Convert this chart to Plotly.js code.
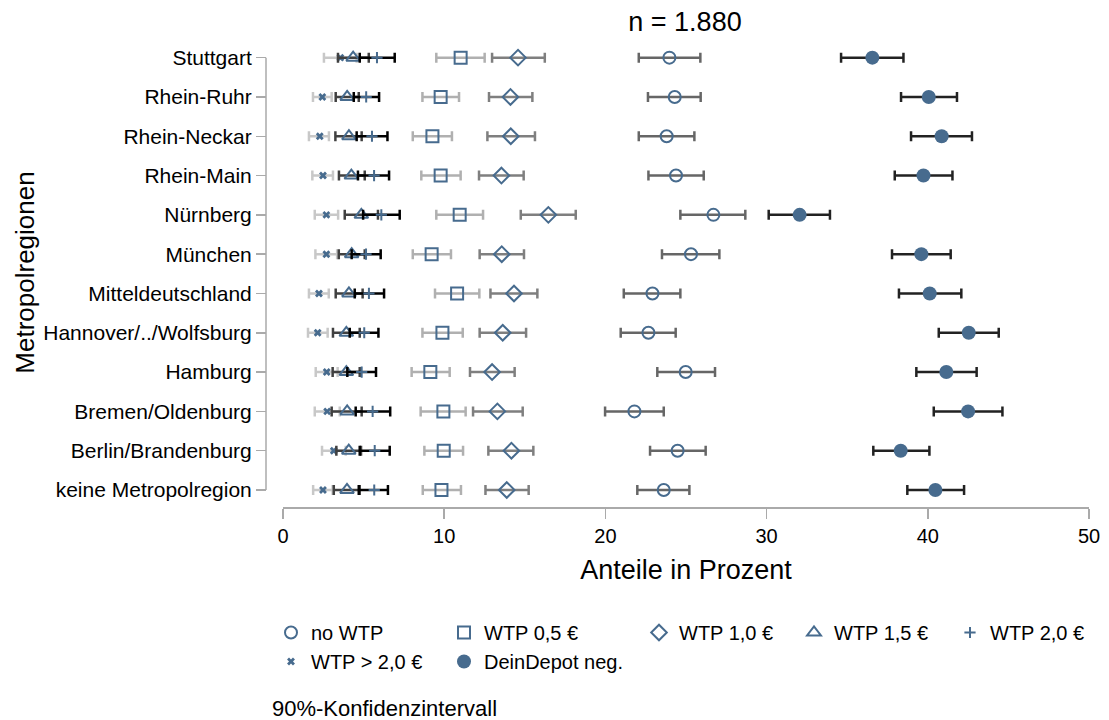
<!DOCTYPE html>
<html><head><meta charset="utf-8">
<script src="https://cdn.plot.ly/plotly-3.0.1.min.js"></script>
<style>html,body{margin:0;padding:0;background:#fff}</style>
</head><body><div id="chart" style="width:1109px;height:720px"></div>
<script>
const regions = ["Stuttgart","Rhein-Ruhr","Rhein-Neckar","Rhein-Main","Nürnberg","München","Mitteldeutschland","Hannover/../Wolfsburg","Hamburg","Bremen/Oldenburg","Berlin/Brandenburg","keine Metropolregion"];

const noWTP    = [23.97,24.30,23.80,24.38,26.70,25.31,22.92,22.67,24.98,21.80,24.48,23.62];
const noWTP_lo = [22.07,22.64,22.07,22.67,24.65,23.51,21.14,20.95,23.22,19.98,22.77,21.98];
const noWTP_hi = [25.89,25.91,25.52,26.10,28.68,27.07,24.65,24.36,26.80,23.62,26.22,25.21];

const wtp05    = [11.02,9.78,9.27,9.78,10.96,9.22,10.80,9.89,9.14,9.95,9.97,9.83];
const wtp05_lo = [9.51,8.65,8.05,8.58,9.51,8.05,9.43,8.65,7.98,8.54,8.77,8.67];
const wtp05_hi = [12.51,10.92,10.48,11.02,12.41,10.42,12.18,11.15,10.34,11.33,11.17,11.04];

const wtp10    = [14.58,14.11,14.13,13.55,16.46,13.57,14.33,13.63,12.97,13.30,14.17,13.88];
const wtp10_lo = [12.97,12.78,12.68,12.16,14.75,12.20,12.87,12.20,11.60,11.79,12.74,12.56];
const wtp10_hi = [16.24,15.47,15.63,14.93,18.16,14.95,15.78,15.08,14.37,14.87,15.53,15.24];

const wtp15    = [4.35,3.98,4.09,4.24,4.86,4.26,4.09,3.93,3.93,3.98,4.08,3.97];
const wtp15_lo = [3.41,3.27,3.25,3.47,3.83,3.46,3.27,3.10,3.08,3.02,3.31,3.15];
const wtp15_hi = [5.32,4.70,4.88,5.07,5.89,5.07,4.94,4.76,4.76,4.88,4.84,4.76];

const wtp20    = [5.83,5.16,5.52,5.65,6.10,5.15,5.33,5.04,4.88,5.56,5.69,5.66];
const wtp20_lo = [4.76,4.39,4.57,4.65,4.97,4.26,4.45,4.14,3.99,4.51,4.76,4.70];
const wtp20_hi = [6.93,5.96,6.48,6.58,7.24,6.06,6.27,5.92,5.77,6.65,6.62,6.51];

const wtpGt20    = [3.56,2.44,2.28,2.48,2.69,2.69,2.23,2.15,2.71,2.74,3.15,2.48];
const wtpGt20_lo = [2.54,1.86,1.61,1.82,1.97,2.01,1.61,1.55,2.03,1.97,2.42,1.87];
const wtpGt20_hi = [4.57,3.02,2.85,3.10,3.42,3.36,2.84,2.77,3.39,3.52,3.89,3.08];

const deinDepot    = [36.56,40.06,40.86,39.73,32.05,39.60,40.12,42.54,41.15,42.50,38.32,40.47];
const deinDepot_lo = [34.62,38.34,38.96,37.95,30.13,37.78,38.21,40.68,39.29,40.37,36.62,38.73];
const deinDepot_hi = [38.49,41.81,42.74,41.53,33.93,41.42,42.08,44.40,43.03,44.63,40.10,42.25];

const xTicks = [0,10,20,30,40,50];
const gridVals = [0,5,10,15,20,30,40,50];

const blue = '#476b8e';
function tr(name, v, lo, hi, symbol, size, lw, ecol, legend, rank){
  return {
    type:'scatter', mode:'markers', name:name, x:v, y:regions,
    legend:legend, legendrank:rank, legendgroup:name,
    marker:{symbol:symbol, size:size, color:blue, line:{color:blue, width:lw}},
    error_x:{type:'data', symmetric:false,
      array:hi.map((h,i)=>h-v[i]), arrayminus:lo.map((l,i)=>v[i]-l),
      color:ecol, thickness:2.5, width:5}
  };
}
const data = [
  tr('WTP > 2,0 €', wtpGt20, wtpGt20_lo, wtpGt20_hi, 'x', 7, 0, '#c8c8c8', 'legend', 2),
  tr('WTP 0,5 €', wtp05, wtp05_lo, wtp05_hi, 'square-open', 12, 2, '#b0b0b0', 'legend2', 1),
  tr('WTP 1,0 €', wtp10, wtp10_lo, wtp10_hi, 'diamond-open', 12, 2, '#7f7f7f', 'legend3', 1),
  tr('no WTP', noWTP, noWTP_lo, noWTP_hi, 'circle-open', 12, 2, '#666666', 'legend', 1),
  tr('WTP 1,5 €', wtp15, wtp15_lo, wtp15_hi, 'triangle-up-open', 12, 2, '#404040', 'legend4', 1),
  tr('WTP 2,0 €', wtp20, wtp20_lo, wtp20_hi, 'cross-thin-open', 8, 2, '#000000', 'legend5', 1),
  tr('DeinDepot neg.', deinDepot, deinDepot_lo, deinDepot_hi, 'circle', 14, 0, '#222222', 'legend2', 2)
];

const L = 266, R = 1089, T = 38, B = 507;
const W = R - L, H = B - T;
const px2x = p => (p - L) / W;
const py2y = p => (B - p) / H;
const fontFam = '"Liberation Sans", Arial, sans-serif';
function leg(markerX){
  return {x:px2x(markerX-20), xanchor:'left', y:py2y(613), yanchor:'top',
    orientation:'v', bgcolor:'rgba(0,0,0,0)', borderwidth:0,
    traceorder:'grouped', tracegroupgap:0, itemsizing:'trace',
    font:{family:fontFam, size:20, color:'#000'}};
}

const layout = {
  width:1109, height:720,
  margin:{l:L, r:1109-R, t:T, b:720-B},
  paper_bgcolor:'#fff', plot_bgcolor:'#fff',
  font:{family:fontFam, color:'#000'},
  title:{text:'n = 1.880', x:px2x(685), xref:'paper', xanchor:'center', y:1-22/720, yanchor:'middle',
    font:{size:27, color:'#000'}},
  xaxis:{domain:[17/W,1], range:[0,50], tickvals:xTicks, ticks:'outside', ticklen:10, tickwidth:1.5,
    tickcolor:'#aaa', showline:true, linecolor:'#aaa', linewidth:1.5, showgrid:false, zeroline:false,
    tickfont:{size:20, color:'#000'}, anchor:'y',
    title:{text:'Anteile in Prozent', font:{size:27, color:'#000'}, standoff:14}},
  xaxis2:{overlaying:'x', matches:'x', range:[0,50], tickvals:gridVals, showticklabels:false, ticks:'',
    showgrid:true, gridcolor:'#c4c4c4', griddash:'1px,4px', gridwidth:1.5, zeroline:false, showline:false, anchor:'y'},
  yaxis:{type:'category', categoryorder:'array', categoryarray:regions.slice().reverse(),
    range:[-0.433, 11.5], anchor:'free', position:0, ticks:'outside', ticklen:10, tickwidth:1.5,
    tickcolor:'#aaa', showline:false, showgrid:false, zeroline:false,
    tickfont:{size:21, color:'#000'},
    title:{text:'Metropolregionen', font:{size:26, color:'#000'}, standoff:0}},
  shapes:[{type:'line', xref:'paper', yref:'y', x0:0, x1:0, y0:regions[regions.length-1], y1:regions[0],
    line:{color:'#aaa', width:1.5}}],
  showlegend:true,
  legend:leg(291), legend2:leg(464), legend3:leg(659), legend4:leg(814), legend5:leg(970),
  annotations:[{text:'90%-Konfidenzintervall', xref:'paper', yref:'paper', x:px2x(270), y:py2y(708),
    xanchor:'left', yanchor:'middle', showarrow:false, font:{size:22, color:'#000'}}]
};
Plotly.newPlot('chart', data, layout, {displayModeBar:false, staticPlot:true});
</script></body></html>
